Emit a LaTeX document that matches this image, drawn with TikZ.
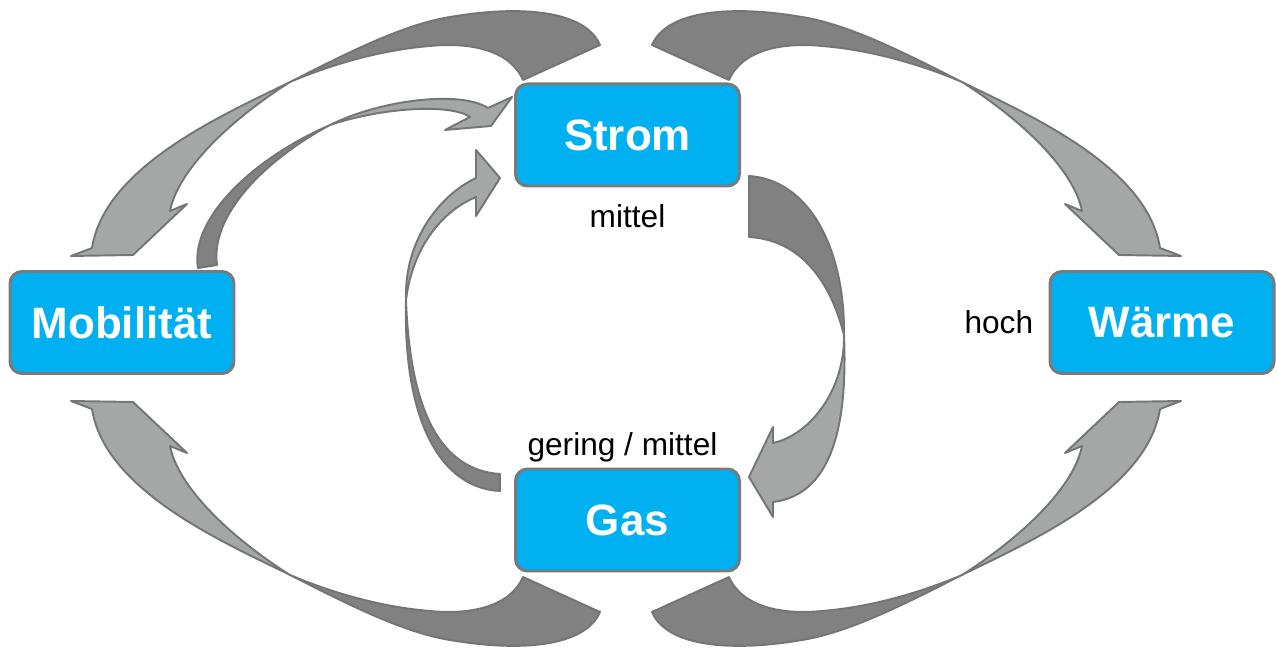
\documentclass[tikz,border=0pt]{standalone}
\usepackage{fontspec}
\setmainfont{Liberation Sans}
\usetikzlibrary{positioning}
\definecolor{boxblue}{HTML}{00B0F0}
\definecolor{boxrim}{HTML}{7A7A7A}
\definecolor{backgray}{HTML}{808180}
\definecolor{frontgray}{HTML}{A5A7A6}
\definecolor{rimgray}{HTML}{747575}

% large twisted arrow (Strom -> Mobilitaet), reused mirrored for the other corners
\newcommand{\swoosh}{%
  \path[back] (600,45) .. controls (585,10) and (520,5) .. (450,17)
    .. controls (400,25) and (340,57) .. (290,82)
    .. controls (330,65) and (380,50) .. (430,46)
    .. controls (470,42) and (510,50) .. (523,80) -- cycle;
  \path[front] (290,82) .. controls (228,113) and (105,165) .. (92,248)
    -- (71,256) -- (133,255) -- (187,204) -- (170,211)
    .. controls (178,170) and (230,120) .. (290,82) -- cycle;
}

\begin{document}
\begin{tikzpicture}[
    x=0.2mm, y=-0.2mm,
    sector/.style={draw=boxrim, line width=1.7pt, rounded corners=2.4mm, fill=boxblue,
      minimum width=44.8mm, minimum height=20.4mm, inner sep=0pt, text=white,
      font=\bfseries\fontsize{25}{30}\selectfont},
    note/.style={inner sep=0pt, font=\fontsize{18}{22}\selectfont},
    back/.style={fill=backgray, draw=rimgray, line width=1.1pt, line join=round},
    front/.style={fill=frontgray, draw=rimgray, line width=1.1pt, line join=round}
  ]
    \useasboundingbox (0,0) rectangle (1277,648);

    % outer arrows
    \swoosh
    \begin{scope}[shift={(1252,0)}, xscale=-1]
      \swoosh
    \end{scope}
    \begin{scope}[shift={(0,657)}, yscale=-1]
      \swoosh
    \end{scope}
    \begin{scope}[shift={(1252,657)}, xscale=-1, yscale=-1]
      \swoosh
    \end{scope}

    % Mobilitaet -> Strom
    \path[back] (198,268) .. controls (190,220) and (250,160) .. (330,125)
      .. controls (265,160) and (210,215) .. (217,265) -- cycle;
    \path[front] (330,125) .. controls (380,100) and (460,90) .. (488,108)
      -- (512,97) -- (491,126) -- (445,130) -- (470,117)
      .. controls (450,103) and (380,108) .. (330,125) -- cycle;

    % Gas -> Strom
    \path[back] (500,491) .. controls (440,488) and (403,420) .. (406,300)
      .. controls (410,410) and (440,470) .. (500,474) -- cycle;
    \path[front] (406,300) .. controls (404,240) and (440,195) .. (476,178)
      -- (476,150) -- (500,178) -- (476,216) -- (476,197)
      .. controls (440,212) and (412,250) .. (406,300) -- cycle;

    % Strom -> Gas
    \path[back] (749,176) .. controls (810,180) and (845,250) .. (844,335)
      .. controls (830,280) and (800,240) .. (749,237) -- cycle;
    \path[front] (844,335) .. controls (848,430) and (830,495) .. (773,502)
      -- (773,517) -- (749,477) -- (773,427) -- (773,443)
      .. controls (810,435) and (845,390) .. (844,335) -- cycle;

    % sectors
    \node[sector] (strom) at (627.5,135) {Strom};
    \node[sector] (gas) at (627.5,520) {Gas};
    \node[sector] (mobil) at (122,322.5) {Mobilität};
    \node[sector] (waerme) at (1162,322.5) {Wärme};

    \node[note, below=3.4mm of strom] (strommark) {mittel};
    \node[note, above=1mm of gas, xshift=-1mm] (gasmark) {gering / mittel};
    \node[note, left=3mm of waerme] (waermemark) {hoch};
  \end{tikzpicture}
\end{document}
